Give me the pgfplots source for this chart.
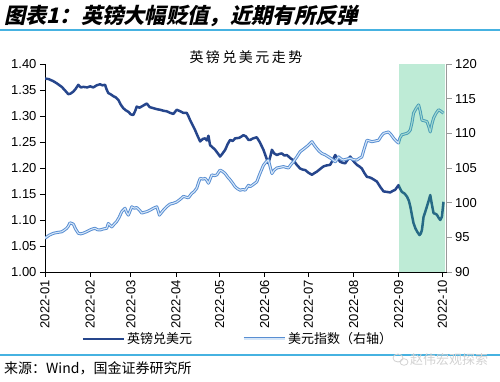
\documentclass[border=0pt]{standalone}
\usepackage{fontspec}
\setmainfont{Liberation Sans}
\newfontfamily\cjk{Noto Sans CJK SC}
\newfontfamily\cjktitle{Noto Sans CJK SC}[FakeSlant=0.22]
\usepackage{pgfplots}
\pgfplotsset{compat=1.18}
\definecolor{gbpblue}{RGB}{38,70,140}
\definecolor{dxyblue}{RGB}{88,142,210}
\definecolor{dxylight}{RGB}{214,230,248}
\definecolor{shadegreen}{RGB}{40,190,120}
\definecolor{rulecyan}{RGB}{70,178,225}
\tikzset{
  gbp/.style={draw=gbpblue, line width=2.5pt, line join=round},
  dxy/.style={draw=dxyblue, double=dxylight, double distance=1.1pt, line width=0.95pt, line join=round},
}
\begin{document}
\begin{tikzpicture}
\useasboundingbox (0pt,0pt) rectangle (500pt,382pt);
% header
\node[anchor=west, inner sep=0pt] at (4pt,366pt) {\cjktitle\bfseries\fontsize{21.3}{23}\selectfont 图表1：英镑大幅贬值，近期有所反弹};
\draw[rulecyan, line width=1.5pt] (0pt,352pt) -- (500pt,352pt);
\node[inner sep=0pt] at (246pt,325pt) {\cjk\fontsize{14}{16}\selectfont 英\hspace{2.5pt}镑\hspace{2.5pt}兑\hspace{2.5pt}美\hspace{2.5pt}元\hspace{2.5pt}走\hspace{2.5pt}势};

\begin{axis}[
  at={(45pt,110pt)}, anchor=south west, scale only axis,
  width=401.7pt, height=208pt,
  xmin=0, xmax=276, ymin=1, ymax=1.4,
  axis y line*=left, axis x line*=bottom,
  ytick={1,1.05,1.1,1.15,1.2,1.25,1.3,1.35,1.4},
  yticklabel style={/pgf/number format/.cd, fixed, fixed zerofill, precision=2},
  xtick={0,31,59,90,120,151,181,212,243,273},
  xticklabels={2022-01,2022-02,2022-03,2022-04,2022-05,2022-06,2022-07,2022-08,2022-09,2022-10},
  xticklabel style={rotate=90, anchor=east},
  tick align=outside, major tick length=5pt,
  ticklabel style={font=\fontsize{13}{15}\selectfont},
  /pgf/number format/assume math mode=true,
  axis line style={black, line width=0.8pt},
  tick style={black, line width=0.8pt},
]
\addplot[gbp] coordinates {
(0,1.372) (2.5,1.371) (5.7,1.367) (8,1.363) (11.5,1.356) (13.5,1.350) (16,1.342) (17.5,1.343)
(19.5,1.347) (21,1.352) (22.9,1.360) (24.5,1.355) (26.3,1.356) (29,1.355) (31,1.357) (33.2,1.355)
(35.5,1.359) (37.8,1.361) (39.5,1.359) (41.3,1.360) (42.2,1.352) (43.5,1.344) (45,1.342) (47,1.338)
(48.5,1.336) (50.4,1.331) (52,1.322) (53.8,1.315) (55.5,1.311) (57.3,1.308) (59,1.303) (60.7,1.302)
(62,1.310) (63,1.318) (65,1.316) (67.5,1.320) (69.9,1.324) (72,1.317) (74.5,1.315) (77,1.313)
(79,1.312) (81.5,1.310) (83.7,1.309) (86,1.306) (88.2,1.304) (90.5,1.312) (93,1.309) (95,1.306)
(97.4,1.306) (98.5,1.300) (99.7,1.292) (101.5,1.282) (103.1,1.273) (104.8,1.262) (106.6,1.251)
(108.5,1.256) (110,1.257) (111.2,1.253) (112.3,1.262) (113.4,1.244) (115,1.240) (116.9,1.235)
(118.5,1.229) (120.3,1.222) (122,1.228) (123.8,1.235) (125.5,1.246) (127.2,1.254) (129,1.252)
(130.6,1.257) (133.5,1.258) (136.3,1.263) (138,1.261) (139.8,1.254) (141,1.254) (143,1.257)
(145.5,1.259) (147.5,1.250) (150.1,1.235) (152,1.220) (153.5,1.209) (154.8,1.222) (155.9,1.235)
(157.5,1.228) (159.3,1.225) (161,1.227) (162.7,1.228) (164.5,1.224) (166.2,1.225) (168.5,1.219)
(170.7,1.215) (173,1.206) (175.3,1.199) (177,1.197) (178.8,1.196) (181,1.191) (183.4,1.187)
(185,1.190) (186.8,1.193) (189,1.198) (191.3,1.203) (193.5,1.205) (195.9,1.206) (197.5,1.214)
(199.4,1.225) (201,1.218) (202.8,1.212) (204.5,1.210) (206.3,1.209) (208,1.216) (209.7,1.222)
(212,1.213) (214.3,1.206) (216,1.203) (217.7,1.199) (219.5,1.190) (221.2,1.183) (223,1.182)
(224.6,1.180) (226.3,1.177) (228,1.174) (230.5,1.163) (232.6,1.155) (235,1.154) (237.2,1.153)
(239,1.156) (240.6,1.158) (242.9,1.167) (244,1.160) (245.2,1.154) (247,1.151) (248.7,1.145)
(250,1.137) (251,1.126) (252.2,1.108) (253.2,1.094) (254.5,1.084) (255.6,1.078) (257.3,1.071)
(258.2,1.074) (259,1.081) (260.1,1.106) (261.3,1.116) (262.4,1.126) (263.6,1.137) (264.7,1.148)
(265.8,1.130) (267,1.113) (268.2,1.112) (269.3,1.110) (270.5,1.104) (271.6,1.100) (272.7,1.106)
(273.8,1.135)
};
\end{axis}

\begin{axis}[
  at={(45pt,110pt)}, anchor=south west, scale only axis,
  width=401.7pt, height=208pt,
  xmin=0, xmax=276, ymin=90, ymax=120,
  axis y line*=right, axis x line=none,
  ytick={90,95,100,105,110,115,120},
  tick align=outside, major tick length=5pt,
  ticklabel style={font=\fontsize{13}{15}\selectfont},
  /pgf/number format/assume math mode=true,
  axis line style={gray!80, line width=0.8pt},
  tick style={gray!80, line width=0.8pt},
  legend columns=2,
  legend style={at={(0.48,-0.322)}, anchor=center, draw=none, fill=none,
    font=\cjk\fontsize{13}{15}\selectfont,
    /tikz/every even column/.append style={column sep=48pt}},
  legend image code/.code={\draw[#1] (0pt,0pt) -- (41pt,0pt);},
]
\addlegendimage{gbp}
\addlegendentry{英镑兑美元}
\addplot[dxy] coordinates {
(0,94.86) (2.8,95.3) (5.7,95.58) (8.5,95.7) (11.5,95.8) (13,96.0) (14.9,96.3) (16,96.6) (17.2,97.1)
(18.4,97.0) (19.5,96.9) (21,96.2) (22.9,95.58) (24.5,95.5) (26.3,95.6) (28.5,95.8) (30.9,96.06)
(32.5,96.2) (34.4,96.3) (36,96.1) (37.8,96.06) (40,96.2) (42.4,96.3) (43.5,97.0) (45.9,96.5)
(47.5,96.9) (49.3,97.3) (51,97.9) (52.7,98.7) (55,99.2) (56,98.6) (57.3,98.2) (59.6,99.4) (61.5,99.2)
(63,99.3) (65,98.9) (66.5,98.5) (68,98.6) (69.9,98.7) (72,98.9) (74.5,99.2) (76.8,99.4) (77.8,98.8)
(78.6,98.2) (81.3,98.9) (83.5,99.4) (85.9,99.8) (88,99.9) (90.5,100.1) (93,100.5) (95.1,100.9)
(96.8,100.8) (98.5,100.7) (100.9,101.35) (102.5,101.6) (104.3,102.1) (105.5,102.9) (106.6,103.5)
(108.5,103.4) (110,103.5) (111.2,103.2) (112.3,102.8) (114.6,104.0) (116.5,103.9) (118,104.0)
(120.3,104.7) (122,104.5) (123.8,104.2) (125.5,103.7) (127.2,103.3) (129,102.8) (130.6,102.3)
(132.3,102.0) (134.1,101.8) (136,101.9) (137.5,101.8) (139.8,102.5) (140.9,102.3) (143,102.6)
(145.5,103.0) (147.5,104.1) (150.1,105.4) (152,105.9) (153.5,106.15) (154.8,105.1) (155.9,104.2)
(157.5,104.7) (159.3,105.0) (161.5,105.1) (163.8,105.2) (165.5,105.1) (167.3,105.0) (169,105.5)
(170.7,105.9) (173,106.6) (175.3,107.35) (177.5,107.7) (179.9,108.1) (181.5,108.4) (183.4,108.8)
(185,108.3) (186.8,107.8) (188.5,107.4) (190.2,107.1) (192.5,106.9) (194.8,106.6) (197,106.3)
(199.4,105.9) (200.5,106.2) (201.7,106.6) (203.5,106.3) (205.1,106.15) (207.5,106.3) (209.7,106.4)
(212,106.2) (214.3,106.15) (216,106.4) (217.7,106.6) (219.5,107.9) (221.2,109.0) (223,108.9)
(224.6,108.8) (227,108.9) (229.2,109.0) (231,109.6) (232.6,110.0) (234.3,110.1) (236,110.2)
(237.8,109.8) (239.5,109.3) (241.2,108.9) (242.9,108.6) (243.8,109.3) (245.2,109.8) (247,109.9)
(248.7,110.0) (250,110.2) (251,110.5) (252.2,111.6) (253.2,112.9) (255,113.6) (256.7,114.1)
(257.8,113.2) (259,111.9) (260.8,111.8) (262.4,111.7) (263.6,111.0) (264.7,110.2) (265.8,111.3)
(267,112.2) (268.7,112.9) (270.4,113.4) (272,113.2) (273.8,112.9)
};
\addlegendentry{美元指数（右轴）}
\addplot[draw=none, fill=shadegreen, fill opacity=0.3, forget plot] coordinates {(243,120) (274.5,120)} \closedcycle;
\end{axis}

% footer
\draw[rulecyan, line width=1.5pt] (0pt,27pt) -- (500pt,27pt);
\node[anchor=west, inner sep=0pt] at (4pt,14pt) {\cjk\fontsize{14}{16}\selectfont 来源：Wind，国金证券研究所};
\node[anchor=west, inner sep=0pt, text=gray!35] at (410pt,22pt) {\cjk\fontsize{13}{15}\selectfont 赵伟宏观探索};
\draw[gray!35, line width=0.8pt] (398pt,24pt) ellipse (5pt and 4pt);
\draw[gray!35, line width=0.8pt] (404pt,20pt) ellipse (4pt and 3.3pt);
\end{tikzpicture}
\end{document}
